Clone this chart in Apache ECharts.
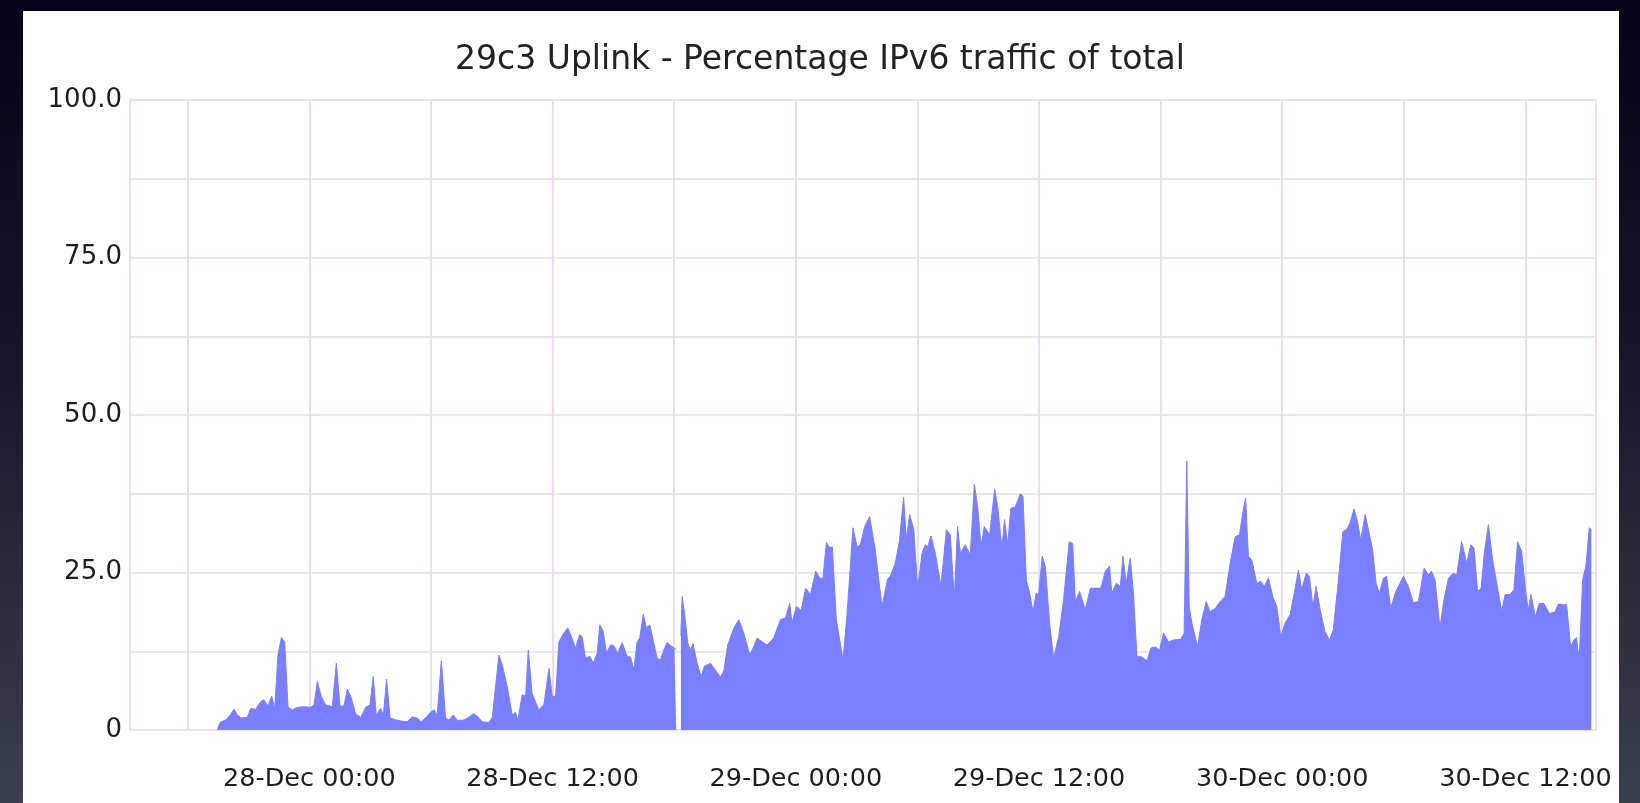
<!DOCTYPE html>
<html>
<head>
<meta charset="utf-8">
<title>29c3 Uplink - Percentage IPv6 traffic of total</title>
<script src="https://cdn.jsdelivr.net/npm/echarts@6/dist/echarts.min.js"></script>
<style>
  html, body { margin: 0; padding: 0; width: 1640px; height: 803px; overflow: hidden; }
  body { background: linear-gradient(to bottom, #03041a 0%, #161829 45%, #3c3f4d 100%); }
  #panel { position: absolute; left: 23px; top: 11px; width: 1596px; height: 792px; background: #fff; }
  #chart { position: absolute; left: 0; top: 0; width: 1640px; height: 803px; }
</style>
</head>
<body>
<div id="panel"></div>
<div id="chart"></div>
<script>
const chartTitle = '29c3 Uplink - Percentage IPv6 traffic of total'

// x = hours since 28-Dec 00:00, y = IPv6 share of total traffic (%)
const hrs = [
  -4.54, -4.41, -4.13, -3.88, -3.72, -3.55, -3.36, -3.06, -2.90, -2.65,
  -2.40, -2.24, -2.04, -1.86, -1.71, -1.55, -1.38, -1.22, -1.05, -0.84,
  -0.59, -0.27, 0.06, 0.23, 0.39, 0.59, 0.80, 1.13, 1.33, 1.51,
  1.71, 1.87, 2.04, 2.28, 2.53, 2.78, 2.99, 3.15, 3.30, 3.52,
  3.65, 3.81, 3.98, 4.26, 4.58, 4.83, 5.08, 5.32, 5.52, 5.78,
  5.98, 6.15, 6.31, 6.51, 6.72, 6.89, 7.10, 7.30, 7.63, 7.87,
  8.09, 8.28, 8.53, 8.86, 9.02, 9.35, 9.52, 9.76, 10.01, 10.17,
  10.29, 10.50, 10.67, 10.80, 10.99, 11.32, 11.57, 11.82, 11.98, 12.15,
  12.31, 12.56, 12.75, 12.92, 13.13, 13.33, 13.46, 13.62, 13.84, 14.00,
  14.20, 14.33, 14.50, 14.66, 14.86, 15.02, 15.22, 15.43, 15.68, 15.84,
  16.01, 16.17, 16.30, 16.47, 16.63, 16.80, 16.96, 17.16,
  17.32, 17.49, 17.65, 17.82, 18.01, 18.10, 18.20, 18.33, 18.39, 18.51,
  18.67, 18.80, 18.93, 19.13, 19.33, 19.49, 19.79, 20.03, 20.28, 20.45,
  20.64, 20.94, 21.19, 21.43, 21.73, 21.92, 22.09, 22.34, 22.58, 22.91,
  23.24, 23.49, 23.70, 23.81, 24.03, 24.26, 24.49, 24.72, 24.98, 25.21,
  25.34, 25.51, 25.67, 25.80, 26.00, 26.33, 26.53, 26.82, 27.02, 27.18,
  27.40, 27.64, 27.92, 28.25, 28.53,
  28.66, 28.91, 29.12, 29.32, 29.45, 29.62, 29.82, 30.01, 30.23, 30.39,
  30.51, 30.67, 30.88, 31.16, 31.43, 31.62, 31.82, 31.98, 32.12, 32.36,
  32.61, 32.81, 32.97, 33.14, 33.30, 33.56, 33.81, 33.96, 34.17, 34.30,
  34.45, 34.61, 34.83, 35.07, 35.21, 35.37, 35.54, 35.70, 35.86, 35.98,
  36.16, 36.31, 36.52, 36.72, 36.97, 37.21, 37.49, 37.66, 37.79, 38.00,
  38.28, 38.53, 38.77, 39.05, 39.27, 39.48, 39.59, 39.81,
  40.01, 40.14, 40.30, 40.50, 40.66, 40.83, 41.07, 41.32, 41.52, 41.73,
  41.95, 42.14, 42.39, 42.64, 43.00, 43.16, 43.29, 43.41, 43.54, 43.82,
  44.03, 44.25, 44.44, 44.69, 44.94, 45.18, 45.43, 45.68, 45.89, 46.05,
  46.19, 46.33, 46.50, 46.74, 46.94, 47.11, 47.32, 47.53, 47.73, 47.93,
  48.14, 48.39, 48.59, 48.80, 48.96, 49.18, 49.34, 49.51, 49.67, 49.87,
  50.11, 50.33, 50.52, 50.77, 50.99, 51.18,
  51.35, 51.54, 51.71, 51.87, 52.09, 52.25, 52.46, 52.63, 52.79, 52.99,
  53.15, 53.35, 53.57, 53.73, 53.98, 54.22, 54.47, 54.72, 55.00, 55.21,
  55.37, 55.54, 55.78, 55.98, 56.20, 56.44, 56.61, 56.85, 57.10, 57.30,
  57.46, 57.64, 57.81, 57.97, 58.17, 58.38, 58.61, 58.83, 58.99, 59.24,
  59.43, 59.61, 59.81, 60.02, 60.14, 60.27, 60.49, 60.68, 60.91, 61.18,
  61.45, 61.62, 61.87, 62.03, 62.23, 62.39, 62.52, 62.65, 62.82, 62.98,
  63.15, 63.25
]
const pct = [
  0, 1.2, 1.6, 2.5, 3.3, 2.4, 1.9, 2.0, 3.4, 3.3,
  4.5, 4.8, 3.8, 5.4, 3.4, 11.9, 14.7, 14.0, 3.6, 3.2,
  3.6, 3.7, 3.6, 4.0, 7.7, 5.3, 4.0, 3.7, 10.6, 3.8,
  3.8, 6.5, 5.4, 2.6, 2.0, 3.6, 4.0, 8.5, 2.4, 3.4,
  2.4, 8.1, 1.9, 1.6, 1.4, 1.3, 2.1, 1.9, 1.3, 2.1,
  2.8, 3.2, 2.4, 11.0, 1.9, 1.6, 2.4, 1.5, 1.6, 2.0,
  2.6, 2.2, 1.3, 1.2, 1.9, 11.9, 10.3, 6.9, 2.4, 2.8,
  1.6, 5.6, 5.4, 12.7, 5.8, 3.2, 4.0, 9.8, 5.3, 5.4,
  14.0, 15.4, 16.2, 14.9, 13.0, 15.1, 14.8, 11.4, 11.7, 10.6,
  12.2, 16.7, 15.6, 12.2, 13.5, 13.4, 12.2, 13.9, 11.7, 11.6,
  9.6, 14.0, 14.6, 18.4, 16.2, 16.7, 14.3, 11.4,
  11.1, 12.7, 13.9, 13.4, 13.0, 12.8, '-', 15.0, 21.2, 18.5,
  13.8, 12.7, 13.7, 10.6, 8.5, 10.1, 10.6, 9.5, 8.4, 9.4,
  13.5, 16.2, 17.5, 15.4, 11.9, 13.2, 14.6, 14.0, 13.5, 14.6,
  17.5, 17.8, 20.1, 17.0, 19.6, 19.0, 22.5, 21.5, 25.2, 24.0,
  24.1, 29.8, 28.9, 29.1, 17.5, 11.1, 18.5, 32.1, 29.1, 29.4,
  32.3, 33.9, 28.6, 19.6, 24.0,
  24.4, 26.5, 30.2, 37.0, 30.2, 34.2, 31.8, 22.5, 28.1, 29.4,
  29.1, 30.8, 28.1, 22.8, 31.8, 31.0, 20.9, 32.3, 28.1, 29.4,
  27.8, 39.0, 35.5, 29.1, 32.3, 31.0, 38.2, 35.5, 28.9, 33.4,
  29.4, 35.2, 35.4, 37.5, 37.1, 23.8, 21.7, 18.8, 21.7, 21.5,
  27.6, 26.0, 17.0, 11.4, 14.8, 20.7, 29.9, 29.6, 20.4, 22.0,
  19.1, 22.5, 22.5, 22.5, 25.2, 26.0, 21.7, 23.3,
  22.8, 27.6, 23.3, 27.3, 21.7, 11.7, 11.6, 11.0, 13.0, 13.2,
  12.7, 15.4, 14.0, 14.3, 14.4, 15.4, 42.7, 19.6, 17.0, 13.2,
  17.5, 20.4, 18.8, 19.3, 20.4, 21.2, 26.5, 30.7, 31.0, 34.4,
  36.8, 27.6, 27.0, 23.3, 23.6, 22.8, 24.1, 21.2, 19.6, 14.8,
  17.0, 18.3, 21.7, 25.4, 22.3, 24.9, 24.4, 19.6, 22.8, 19.1,
  15.6, 14.3, 15.9, 23.8, 31.5, 31.8,
  32.9, 35.1, 33.1, 30.2, 34.2, 31.8, 28.6, 23.3, 21.7, 24.1,
  24.4, 19.3, 21.7, 22.8, 24.4, 22.8, 20.2, 20.4, 25.7, 24.6,
  25.2, 23.8, 16.2, 20.7, 24.1, 24.9, 24.6, 29.9, 26.5, 29.4,
  28.9, 22.0, 22.5, 28.1, 32.6, 27.0, 22.8, 18.8, 21.5, 21.5,
  22.3, 29.9, 28.4, 21.7, 19.1, 21.5, 18.0, 20.1, 20.1, 18.5,
  18.7, 20.0, 19.9, 19.9, 13.2, 14.3, 14.7, 11.1, 23.8, 26.0,
  32.1, 31.8
]

const labelHrs = [0, 12, 24, 36, 48, 60]
const xLabels = ['28-Dec 00:00', '28-Dec 12:00', '29-Dec 00:00', '29-Dec 12:00', '30-Dec 00:00', '30-Dec 12:00']
const gridHrs = [-6, 0, 6, 12, 18, 24, 30, 36, 42, 48, 54, 60]

const font = 'DejaVu Sans'
const points = hrs.map((h, i) => [h, pct[i]])
// 12h lines are a bit pinker than the 6h ones
const vLines = gridHrs.map(h => ({
  xAxis: h,
  lineStyle: { color: h % 12 === 0 ? '#ecdcec' : '#e6e3e6', width: 2, type: 'solid' }
}))

const chart = echarts.init(document.getElementById('chart'))
chart.setOption({
  animation: false,
  title: {
    text: chartTitle,
    left: 'center',
    top: 44,
    padding: 0,
    textStyle: { fontFamily: font, fontSize: 33, fontWeight: 'normal', color: '#222' }
  },
  grid: {
    left: 130, right: 44, top: 100, bottom: 73,
    show: true, borderColor: '#efe2ef', borderWidth: 2
  },
  xAxis: {
    type: 'value',
    min: -8.85,
    max: 63.48,
    axisLine: { show: false },
    axisTick: { show: false },
    splitLine: { show: false },
    axisLabel: {
      customValues: labelHrs,
      formatter: v => xLabels[labelHrs.indexOf(v)],
      margin: 36,
      fontFamily: font,
      fontSize: 25.5,
      color: '#1e1e1e'
    }
  },
  yAxis: {
    type: 'value',
    min: 0,
    max: 100,
    interval: 25,
    axisLine: { show: false },
    axisTick: { show: false },
    axisLabel: {
      formatter: v => (v === 0 ? '0' : v.toFixed(1)),
      margin: 8,
      fontFamily: font,
      fontSize: 26,
      color: '#1e1e1e'
    },
    splitLine: { lineStyle: { color: '#f0e3f0', width: 2 } },
    minorTick: { show: false, splitNumber: 2 },
    minorSplitLine: { show: true, lineStyle: { color: '#e8e6e8', width: 2 } }
  },
  series: [{
    type: 'line',
    data: points,
    z: 3,
    showSymbol: false,
    symbol: 'none',
    connectNulls: false,
    lineStyle: { color: '#7a7fff', width: 1 },
    areaStyle: { color: '#7a7fff', opacity: 1 },
    markLine: {
      silent: true,
      z: 1,
      symbol: ['none', 'none'],
      label: { show: false },
      data: vLines
    }
  }]
})
</script>
</body>
</html>
